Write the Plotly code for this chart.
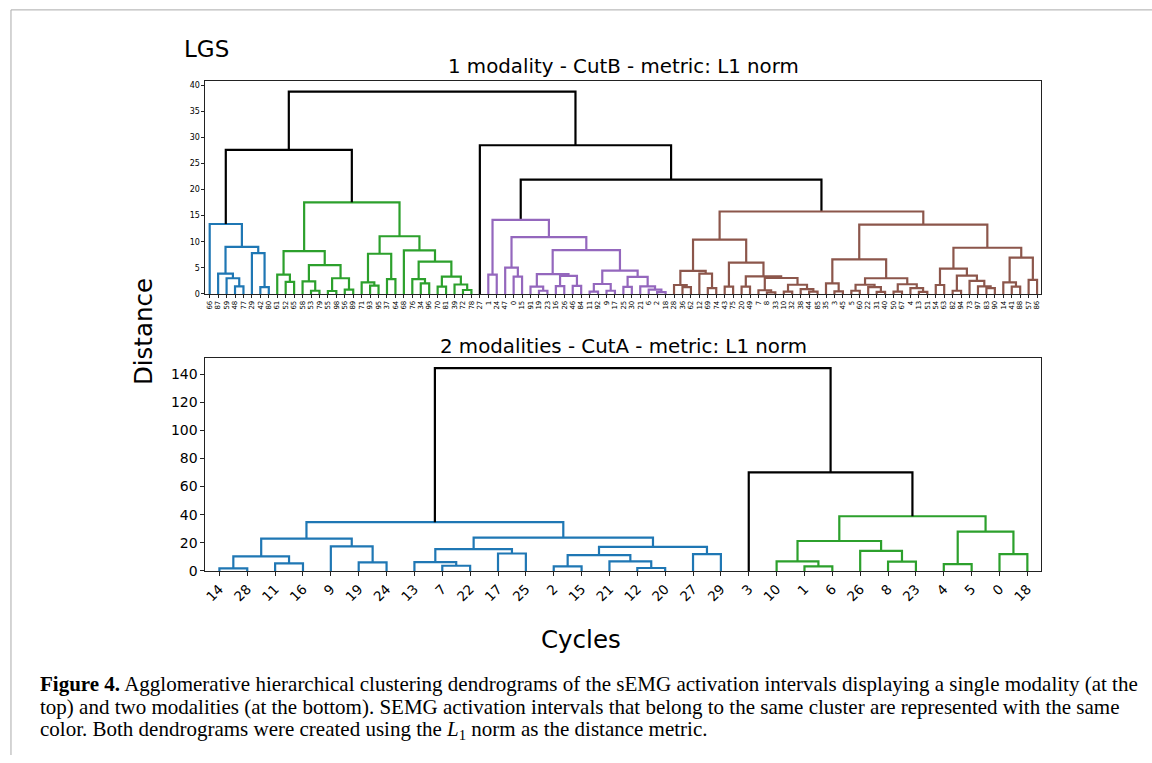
import plotly.graph_objects as go

# ---------------- data ----------------
# Top dendrogram (1 modality): leaf labels in drawn order
top_leaves = [66, 87, 59, 48, 77, 29, 42, 80,
              61, 52, 65, 58, 53, 79, 55, 98, 56, 89, 71, 93, 95, 37, 64, 68, 76, 34, 96, 70, 81, 39, 72, 78,
              27,
              1, 24, 47, 0, 15, 91, 19, 23, 16, 26, 46, 84, 11, 92, 9, 17, 25, 30, 21, 6, 2, 18,
              28, 36, 62, 12, 69, 74, 43, 75, 20, 49, 7, 8, 33, 10, 32, 38, 44, 85,
              35, 3, 45, 5, 60, 22, 31, 40, 50, 67, 4, 13, 51, 54, 63, 82, 94, 73, 97, 83, 90, 14, 41, 88, 57, 86]
# merge distance between each pair of neighbouring leaves (cophenetic distance)
top_gaps = [13.4, 3.9, 3.0, 1.45, 9.0, 7.8, 1.3,
            27.6,
            3.7, 2.3, 8.2, 2.4, 0.6, 5.5, 0.55, 3.0, 0.8, 17.55, 2.2, 1.6, 7.7, 2.85, 11.05,
            8.35, 2.85, 2.0, 6.2, 1.4, 3.3, 1.8, 0.75,
            38.8,
            28.5,
            3.7, 14.2, 5.05, 3.3, 10.9, 1.4, 0.6, 3.8, 1.5, 3.45, 1.55, 8.4, 0.45, 1.9, 0.6,
            4.45, 1.35, 3.25, 1.45, 0.8, 0.35,
            21.9,
            1.7, 1.3, 4.4, 3.9, 1.1, 10.4, 1.4, 6.0, 1.4, 3.35, 0.7, 0.3, 3.05, 0.45, 1.75, 0.9, 0.45,
            15.8,
            2.0, 0.5, 6.6, 0.6, 1.75, 1.3, 0.4, 3.0, 0.45, 1.85, 1.1, 0.4, 13.3,
            1.7, 4.85, 0.6, 3.5, 2.5, 1.45, 1.1, 8.85, 2.2, 1.4, 6.95, 2.7]
top_cluster_sizes = [8, 24, 1, 22, 44]

# Bottom dendrogram (2 modalities)
bottom_leaves = [14, 28, 11, 16, 9, 19, 24, 13, 7, 22, 17, 25, 2, 15, 21, 12, 20, 27, 29,
                 3, 10, 1, 6, 26, 8, 23, 4, 5, 0, 18]
bottom_gaps = [1.8, 10.3, 5.4, 23.0, 17.4, 6.1, 34.7, 6.3, 3.7, 15.5, 12.4, 23.7, 3.3, 11.3,
               6.8, 2.1, 17.1, 12.0, 144.2, 70.1, 6.8, 3.3, 21.3, 14.3, 6.6, 38.9, 4.9, 27.9, 12.0]
bottom_cluster_sizes = [19, 1, 10]

# ---------------- styles ----------------
top_cluster_colors = ["#1f77b4", "#2ca02c", "#000000", "#9467bd", "#8c564b"]
bottom_cluster_colors = ["#1f77b4", "#000000", "#2ca02c"]
ABOVE = "#000000"
W, H = 1152, 763
FONT = "DejaVu Sans"


def px(x):
    return x / W


def py(y):
    return 1 - y / H


def cluster_ids(sizes):
    ids = []
    for c, n in enumerate(sizes):
        ids += [c] * n
    return ids


def dendro_links(gaps, ids):
    links = []

    def build(lo, hi):
        if lo == hi:
            return 5 + 10 * lo, 0.0
        k = max(range(lo, hi), key=lambda j: gaps[j])
        xl, hl = build(lo, k)
        xr, hr = build(k + 1, hi)
        h = gaps[k]
        same = len(set(ids[lo:hi + 1])) == 1
        links.append(([xl, xl, xr, xr], [hl, h, h, hr], ids[lo] if same else None))
        return (xl + xr) / 2, h

    build(0, len(gaps))
    return links


def add_dendro(fig, gaps, sizes, colors, xa, ya):
    ids = cluster_ids(sizes)
    links = dendro_links(gaps, ids)
    groups = {}
    for xs, ys, c in links:
        col = colors[c] if c is not None else ABOVE
        gx, gy = groups.setdefault(col, ([], []))
        gx += xs + [None]
        gy += ys + [None]
    for col, (gx, gy) in groups.items():
        fig.add_trace(go.Scatter(x=gx, y=gy, mode="lines", xaxis=xa, yaxis=ya,
                                 line=dict(color=col, width=2.2), hoverinfo="skip",
                                 showlegend=False))


fig = go.Figure()
add_dendro(fig, top_gaps, top_cluster_sizes, top_cluster_colors, "x", "y")
add_dendro(fig, bottom_gaps, bottom_cluster_sizes, bottom_cluster_colors, "x2", "y2")

axis_common = dict(showline=True, mirror=True, linecolor="#222", linewidth=1, showgrid=False,
                   zeroline=False, ticks="outside", tickcolor="#222", ticklen=3,
                   tickfont=dict(family=FONT, color="black"))

top_max = max(top_gaps) * 1.05
bot_max = max(bottom_gaps) * 1.05
xdom = [px(203), px(1041)]

fig.update_layout(
    width=W, height=H, margin=dict(l=0, r=0, t=0, b=0), autosize=False,
    paper_bgcolor="white", plot_bgcolor="white",
    xaxis=dict(axis_common, domain=xdom, range=[0, 10 * len(top_leaves)],
               tickvals=[5 + 10 * i for i in range(len(top_leaves))],
               ticktext=[str(v) for v in top_leaves], tickangle=-90,
               tickfont=dict(family=FONT, size=7, color="black"), anchor="y"),
    yaxis=dict(axis_common, domain=[py(297), py(297 - top_max * 5.27)], range=[0, top_max],
               tickvals=list(range(0, 41, 5)), tickfont=dict(family=FONT, size=8, color="black"),
               anchor="x"),
    xaxis2=dict(axis_common, domain=xdom, range=[0, 10 * len(bottom_leaves)],
                tickvals=[5 + 10 * i for i in range(len(bottom_leaves))],
                ticktext=[str(v) for v in bottom_leaves], tickangle=-45, ticklen=4,
                tickfont=dict(family=FONT, size=13.5, color="black"), anchor="y2"),
    yaxis2=dict(axis_common, domain=[py(577), py(577 - bot_max * 1.4214)], range=[0, bot_max],
                tickvals=list(range(0, 141, 20)), ticklen=4,
                tickfont=dict(family=FONT, size=14, color="black"), anchor="x2"),
)

ann = [
    dict(text="LGS", x=px(179), y=py(50), xanchor="left", size=23),
    dict(text="1 modality - CutB - metric: L1 norm", x=px(622), y=py(67), xanchor="center", size=19.8),
    dict(text="2 modalities - CutA - metric: L1 norm", x=px(622), y=py(350), xanchor="center", size=19.8),
    dict(text="Cycles", x=px(580), y=py(646), xanchor="center", size=24.5),
]
for a in ann:
    fig.add_annotation(text=a["text"], x=a["x"], y=a["y"], xref="paper", yref="paper",
                       xanchor=a["xanchor"], yanchor="middle", showarrow=False,
                       font=dict(family=FONT, size=a["size"], color="black"))
fig.add_annotation(text="Distance", x=px(141), y=py(335), xref="paper", yref="paper",
                   textangle=-90, showarrow=False, xanchor="center", yanchor="middle",
                   font=dict(family=FONT, size=24.5, color="black"))

caption = [
    "<b>Figure 4.</b> Agglomerative hierarchical clustering dendrograms of the sEMG activation intervals displaying a single modality (at the",
    "top) and two modalities (at the bottom). SEMG activation intervals that belong to the same cluster are represented with the same",
    "color. Both dendrograms were created using the <i>L</i><sub>1</sub> norm as the distance metric.",
]
for i, line in enumerate(caption):
    fig.add_annotation(text=line, x=px(35), y=py(691 + 23.5 * i), xref="paper", yref="paper",
                       xanchor="left", yanchor="middle", showarrow=False,
                       font=dict(family="Liberation Serif", size=21, color="black"))

# page frame lines
fig.add_shape(type="line", xref="paper", yref="paper", x0=px(8), x1=px(8), y0=py(10), y1=0,
              line=dict(color="#aaaaaa", width=1))
fig.add_shape(type="line", xref="paper", yref="paper", x0=px(8), x1=1, y0=py(10), y1=py(10),
              line=dict(color="#aaaaaa", width=1))

fig.write_html("out.html")
